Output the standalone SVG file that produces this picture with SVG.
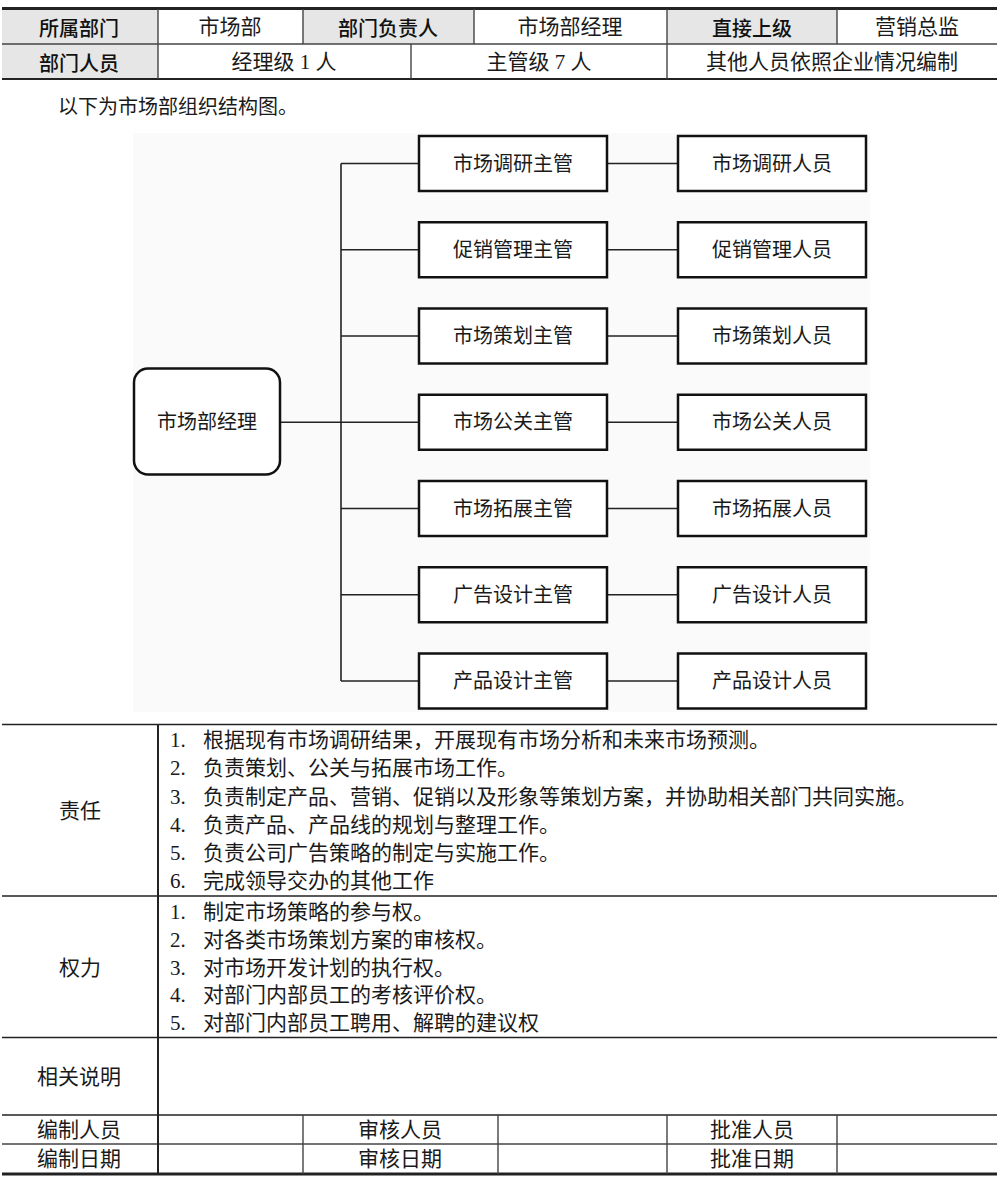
<svg xmlns="http://www.w3.org/2000/svg" width="1000" height="1181" viewBox="0 0 1000 1181">
<style>
.t{font-family:"Liberation Serif","Noto Sans CJK SC",serif;font-size:21px;fill:#1a1a1a;dominant-baseline:central}
.h{font-family:"Noto Sans CJK SC","Liberation Sans",sans-serif;font-size:20px;font-weight:500;fill:#111;dominant-baseline:central;text-anchor:middle}
.c{text-anchor:middle}
.n{font-family:"Liberation Serif","Noto Sans CJK SC",serif;font-size:20px;fill:#1a1a1a;dominant-baseline:central;text-anchor:middle}
.box{fill:#fff;stroke:#111;stroke-width:2.5}
.ln{stroke:#222;stroke-width:1.6;fill:none}
.tl{stroke:#444;stroke-width:1.4;fill:none}
.tk{stroke:#222;stroke-width:3;fill:none}
</style>
<rect width="1000" height="1181" fill="#fff"/>

<g id="top-table">
<rect x="2" y="9" width="156" height="70" fill="#e6e6e6"/>
<rect x="303" y="9" width="171" height="35" fill="#e6e6e6"/>
<rect x="667" y="9" width="170" height="35" fill="#e6e6e6"/>
<line class="tk" x1="2" y1="8.5" x2="997" y2="8.5"/>
<line class="tl" x1="2" y1="44" x2="997" y2="44"/>
<line class="ln" x1="2" y1="79" x2="997" y2="79" style="stroke-width:2"/>
<line class="tl" x1="158" y1="9" x2="158" y2="79"/>
<line class="tl" x1="303" y1="9" x2="303" y2="44"/>
<line class="tl" x1="474" y1="9" x2="474" y2="44"/>
<line class="tl" x1="667" y1="9" x2="667" y2="79"/>
<line class="tl" x1="837" y1="9" x2="837" y2="44"/>
<line class="tl" x1="411" y1="44" x2="411" y2="79"/>
<text class="h" x="79" y="27">所属部门</text>
<text class="t c" x="230" y="27">市场部</text>
<text class="h" x="388" y="27">部门负责人</text>
<text class="t c" x="570" y="27">市场部经理</text>
<text class="h" x="752" y="27">直接上级</text>
<text class="t c" x="917" y="27">营销总监</text>
<text class="h" x="79" y="62">部门人员</text>
<text class="t c" x="284" y="62">经理级 1 人</text>
<text class="t c" x="539" y="62">主管级 7 人</text>
<text class="t c" x="832" y="62">其他人员依照企业情况编制</text>
</g>

<text class="t" x="58" y="107" style="font-size:20px">以下为市场部组织结构图。</text>

<rect x="133" y="133" width="737" height="579" fill="#fafafa"/>

<g id="connectors">
<line class="ln" x1="280" y1="422.25" x2="341" y2="422.25"/>
<line class="ln" x1="341" y1="163.5" x2="341" y2="681"/>
<line class="ln" x1="341" y1="163.5" x2="419" y2="163.5"/>
<line class="ln" x1="341" y1="249.75" x2="419" y2="249.75"/>
<line class="ln" x1="341" y1="336" x2="419" y2="336"/>
<line class="ln" x1="341" y1="422.25" x2="419" y2="422.25"/>
<line class="ln" x1="341" y1="508.5" x2="419" y2="508.5"/>
<line class="ln" x1="341" y1="594.75" x2="419" y2="594.75"/>
<line class="ln" x1="341" y1="681" x2="419" y2="681"/>
<line class="ln" x1="607" y1="163.5" x2="678" y2="163.5"/>
<line class="ln" x1="607" y1="249.75" x2="678" y2="249.75"/>
<line class="ln" x1="607" y1="336" x2="678" y2="336"/>
<line class="ln" x1="607" y1="422.25" x2="678" y2="422.25"/>
<line class="ln" x1="607" y1="508.5" x2="678" y2="508.5"/>
<line class="ln" x1="607" y1="594.75" x2="678" y2="594.75"/>
<line class="ln" x1="607" y1="681" x2="678" y2="681"/>
</g>

<g id="root">
<rect class="box" x="134" y="368.5" width="146" height="106" rx="14"/>
<text class="n" x="207" y="422.25">市场部经理</text>
</g>

<g id="sup1"><rect class="box" x="419" y="136" width="188" height="55"/><text class="n" x="513" y="163.5">市场调研主管</text></g>
<g id="sup2"><rect class="box" x="419" y="222.25" width="188" height="55"/><text class="n" x="513" y="249.75">促销管理主管</text></g>
<g id="sup3"><rect class="box" x="419" y="308.5" width="188" height="55"/><text class="n" x="513" y="336">市场策划主管</text></g>
<g id="sup4"><rect class="box" x="419" y="394.75" width="188" height="55"/><text class="n" x="513" y="422.25">市场公关主管</text></g>
<g id="sup5"><rect class="box" x="419" y="481" width="188" height="55"/><text class="n" x="513" y="508.5">市场拓展主管</text></g>
<g id="sup6"><rect class="box" x="419" y="567.25" width="188" height="55"/><text class="n" x="513" y="594.75">广告设计主管</text></g>
<g id="sup7"><rect class="box" x="419" y="653.5" width="188" height="55"/><text class="n" x="513" y="681">产品设计主管</text></g>

<g id="staff1"><rect class="box" x="678" y="136" width="188" height="55"/><text class="n" x="772" y="163.5">市场调研人员</text></g>
<g id="staff2"><rect class="box" x="678" y="222.25" width="188" height="55"/><text class="n" x="772" y="249.75">促销管理人员</text></g>
<g id="staff3"><rect class="box" x="678" y="308.5" width="188" height="55"/><text class="n" x="772" y="336">市场策划人员</text></g>
<g id="staff4"><rect class="box" x="678" y="394.75" width="188" height="55"/><text class="n" x="772" y="422.25">市场公关人员</text></g>
<g id="staff5"><rect class="box" x="678" y="481" width="188" height="55"/><text class="n" x="772" y="508.5">市场拓展人员</text></g>
<g id="staff6"><rect class="box" x="678" y="567.25" width="188" height="55"/><text class="n" x="772" y="594.75">广告设计人员</text></g>
<g id="staff7"><rect class="box" x="678" y="653.5" width="188" height="55"/><text class="n" x="772" y="681">产品设计人员</text></g>

<g id="bottom-table">
<line class="ln" x1="2" y1="724.5" x2="997" y2="724.5"/>
<line class="ln" x1="2" y1="896" x2="997" y2="896"/>
<line class="ln" x1="2" y1="1037.5" x2="997" y2="1037.5"/>
<line class="ln" x1="2" y1="1115" x2="997" y2="1115"/>
<line class="tl" x1="2" y1="1144" x2="997" y2="1144"/>
<line class="tk" x1="2" y1="1174" x2="997" y2="1174"/>
<line class="ln" x1="158" y1="724.5" x2="158" y2="1174" style="stroke-width:2"/>
<line class="tl" x1="303" y1="1115" x2="303" y2="1174"/>
<line class="tl" x1="498" y1="1115" x2="498" y2="1174"/>
<line class="tl" x1="667" y1="1115" x2="667" y2="1174"/>
<line class="tl" x1="837" y1="1115" x2="837" y2="1174"/>

<text class="t c" x="80" y="811">责任</text>
<text class="t"><tspan x="170" y="740">1.</tspan><tspan x="203" y="740">根据现有市场调研结果，开展现有市场分析和未来市场预测。</tspan></text>
<text class="t"><tspan x="170" y="768">2.</tspan><tspan x="203" y="768">负责策划、公关与拓展市场工作。</tspan></text>
<text class="t"><tspan x="170" y="796.5">3.</tspan><tspan x="203" y="796.5">负责制定产品、营销、促销以及形象等策划方案，并协助相关部门共同实施。</tspan></text>
<text class="t"><tspan x="170" y="824.5">4.</tspan><tspan x="203" y="824.5">负责产品、产品线的规划与整理工作。</tspan></text>
<text class="t"><tspan x="170" y="852.5">5.</tspan><tspan x="203" y="852.5">负责公司广告策略的制定与实施工作。</tspan></text>
<text class="t"><tspan x="170" y="880.5">6.</tspan><tspan x="203" y="880.5">完成领导交办的其他工作</tspan></text>

<text class="t c" x="80" y="968">权力</text>
<text class="t"><tspan x="170" y="912">1.</tspan><tspan x="203" y="912">制定市场策略的参与权。</tspan></text>
<text class="t"><tspan x="170" y="940">2.</tspan><tspan x="203" y="940">对各类市场策划方案的审核权。</tspan></text>
<text class="t"><tspan x="170" y="967.5">3.</tspan><tspan x="203" y="967.5">对市场开发计划的执行权。</tspan></text>
<text class="t"><tspan x="170" y="995">4.</tspan><tspan x="203" y="995">对部门内部员工的考核评价权。</tspan></text>
<text class="t"><tspan x="170" y="1023">5.</tspan><tspan x="203" y="1023">对部门内部员工聘用、解聘的建议权</tspan></text>

<text class="t c" x="79" y="1077">相关说明</text>
<text class="t c" x="79" y="1130">编制人员</text>
<text class="t c" x="400" y="1130">审核人员</text>
<text class="t c" x="752" y="1130">批准人员</text>
<text class="t c" x="79" y="1159">编制日期</text>
<text class="t c" x="400" y="1159">审核日期</text>
<text class="t c" x="752" y="1159">批准日期</text>
</g>
</svg>
